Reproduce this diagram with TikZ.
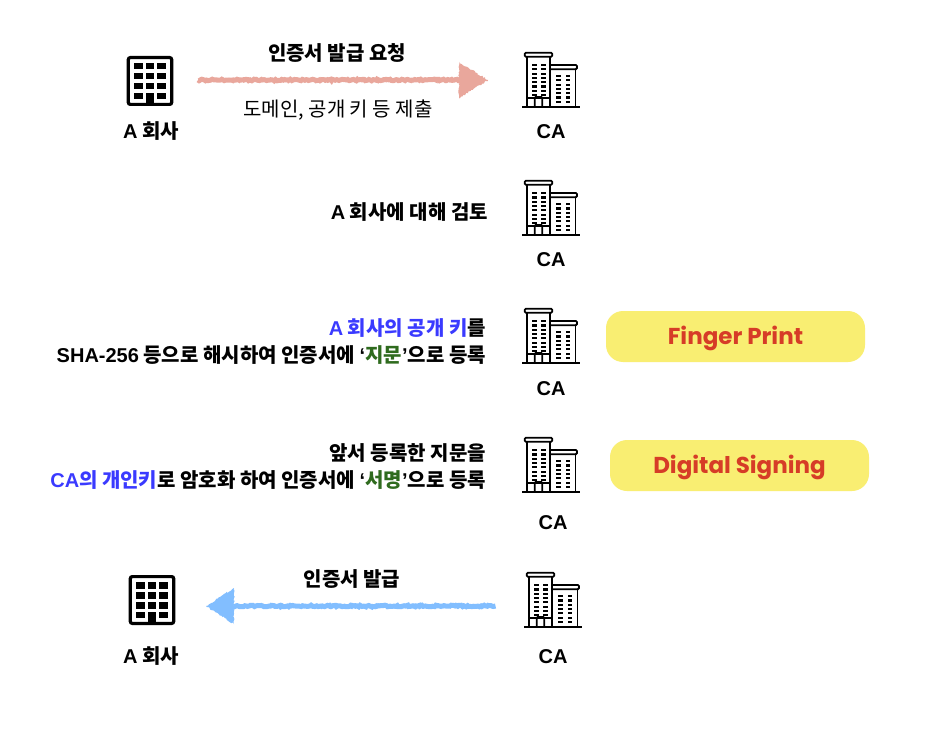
\documentclass[tikz,border=0pt]{standalone}
\usepackage{fontspec}
\setmainfont{Noto Sans CJK KR}
\newfontfamily\latf{Liberation Sans}
\newfontfamily\badgef{Poppins}
\usetikzlibrary{decorations.pathmorphing}
\newcommand{\lt}[1]{{\latf #1}}
\newcommand{\badgeline}[1]{\raisebox{-8pt}[0pt][0pt]{#1}}
\definecolor{pinkarrow}{HTML}{E9A79C}
\definecolor{bluearrow}{HTML}{82BEFF}
\definecolor{badgefill}{HTML}{F9EE72}
\definecolor{badgetext}{HTML}{D63C27}
\definecolor{keyblue}{HTML}{3A3AFF}
\definecolor{keygreen}{HTML}{2F6B1E}
\tikzset{
  bodytext/.style={font=\fontsize{20}{24}\selectfont\bfseries,inner sep=0pt},
  lighttext/.style={font=\fontsize{20}{24}\selectfont,inner sep=0pt},
  rtext/.style={bodytext,anchor=east},
  iconlabel/.style={font=\fontsize{20}{24}\selectfont\bfseries,inner sep=0pt},
  badge/.style={fill=badgefill,rounded corners=17pt,minimum width=259pt,minimum height=51pt,inner sep=0pt,
    text=badgetext,font=\fontsize{23}{27}\selectfont\badgef\bfseries},
  officeslot/.style={minimum width=46pt,minimum height=50pt,inner sep=0pt,outer sep=0pt},
  caslot/.style={minimum width=57pt,minimum height=56pt,inner sep=0pt,outer sep=0pt},
  roughpath/.style={decorate,decoration={random steps,segment length=1.5pt,amplitude=.8pt}},
  shaft/.style={roughpath,line width=5pt},
  arrowhead/.style={roughpath,line join=round},
}
\newcommand{\officeicon}[3]{%
  \node[officeslot] (#1) at (#2,#3) {};
  \begin{scope}[shift={(#2,#3)}]
    \draw[line width=3.2pt,rounded corners=2pt] (-21.7,-23.4) rectangle (21.7,23.4);
    \foreach \xa in {-15.7,-4.2,7.3}{
      \foreach \ya/\yb in {-17.7/-11.5,-7.7/-1.5,2.3/8.5,12.3/17.8}{
        \fill (\xa,\ya) rectangle (\xa+8.4,\yb);
      }
    }
    \fill (-4.2,12.3) rectangle (4.2,24);
  \end{scope}}
\newcommand{\caicon}[3]{%
  \node[caslot] (#1) at (#2,#3) {};
  \begin{scope}[shift={(#2,#3)},line width=1.8pt]
    \draw (-28.7,27) -- (28.7,27);
    \draw (-24,27) -- (-24,-23.5);
    \draw (-.7,27) -- (-.7,-23.5);
    \draw[rounded corners=1.2pt] (-26.3,-27.3) rectangle (1.3,-23.3);
    \draw[rounded corners=1.2pt] (-.7,-15) -- (26,-15) -- (26,-10.8) -- (-.7,-10.8);
    \draw (24.4,-10.8) -- (24.4,27);
    \draw (-24,18) -- (-.7,18);
    \draw[rounded corners=1pt] (-16.3,27) -- (-16.3,17) -- (-8.7,17) -- (-8.7,27);
    \foreach \n in {0,...,7}{
      \fill (-19,-16+4.3*\n) rectangle (-14.5,-13.8+4.3*\n);
      \fill (-10,-16+4.3*\n) rectangle (-5.5,-13.8+4.3*\n);
    }
    \foreach \n in {0,...,6}{
      \fill (5.4,-5+4.3*\n) rectangle (9.6,-2.8+4.3*\n);
      \fill (14.8,-5+4.3*\n) rectangle (19,-2.8+4.3*\n);
    }
  \end{scope}}
\begin{document}
\begin{tikzpicture}[x=1pt,y=-1pt]
\useasboundingbox (0,0) rectangle (928,730);
\fill[white] (0,0) rectangle (928,730);

% row 1
\officeicon{officeA}{150}{81}
\caicon{caA}{551}{80}
\node[iconlabel] (labelA) at (151,131) {\lt{A} 회사};
\node[iconlabel] (labelCaA) at (551,132) {\lt{CA}};
\node[bodytext] (reqT) at (337,53) {인증서 발급 요청};
\node[lighttext] (reqS) at (338,110) {도메인, 공개 키 등 제출};
\draw[shaft,pinkarrow] ([xshift=25pt,yshift=1pt]officeA.east) -- ([xshift=-58pt]caA.west);
\fill[arrowhead,pinkarrow] (459,62) -- (488,80) -- (459,98) -- cycle;

% row 2
\caicon{caB}{551}{208}
\node[iconlabel] (labelCaB) at (551,260) {\lt{CA}};
\node[rtext] (review) at (488,212) {\lt{A} 회사에 대해 검토};

% row 3
\caicon{caC}{551}{336}
\node[iconlabel] (labelCaC) at (551,389) {\lt{CA}};
\node[rtext] (fpA) at (486,328) {\textcolor{keyblue}{\lt{A} 회사의 공개 키}를};
\node[rtext] (fpB) at (486,355) {\lt{SHA-256} 등으로 해시하여 인증서에 \lt{‘}\textcolor{keygreen}{지문}\lt{’}으로 등록};
\node[badge] (fpBadge) at (735.5,336.5) {\badgeline{Finger Print}};

% row 4
\caicon{caD}{551}{465}
\node[iconlabel] (labelCaD) at (553,523) {\lt{CA}};
\node[rtext] (sgA) at (486,453) {앞서 등록한 지문을};
\node[rtext] (sgB) at (486,480) {\textcolor{keyblue}{\lt{CA}의 개인키}로 암호화 하여 인증서에 \lt{‘}\textcolor{keygreen}{서명}\lt{’}으로 등록};
\node[badge] (sgBadge) at (739.5,465.5) {\badgeline{Digital Signing}};

% row 5
\officeicon{officeB}{152}{600}
\caicon{caE}{553}{600}
\node[iconlabel] (labelB) at (151,656) {\lt{A} 회사};
\node[iconlabel] (labelCaE) at (553,657) {\lt{CA}};
\node[bodytext] (issue) at (352,579) {인증서 발급};
\draw[shaft,bluearrow] ([xshift=-29pt,yshift=-6pt]caE.west) -- ([xshift=58pt,yshift=-6pt]officeB.east);
\fill[arrowhead,bluearrow] (234,588) -- (206,606) -- (234,624) -- cycle;
\end{tikzpicture}
\end{document}
